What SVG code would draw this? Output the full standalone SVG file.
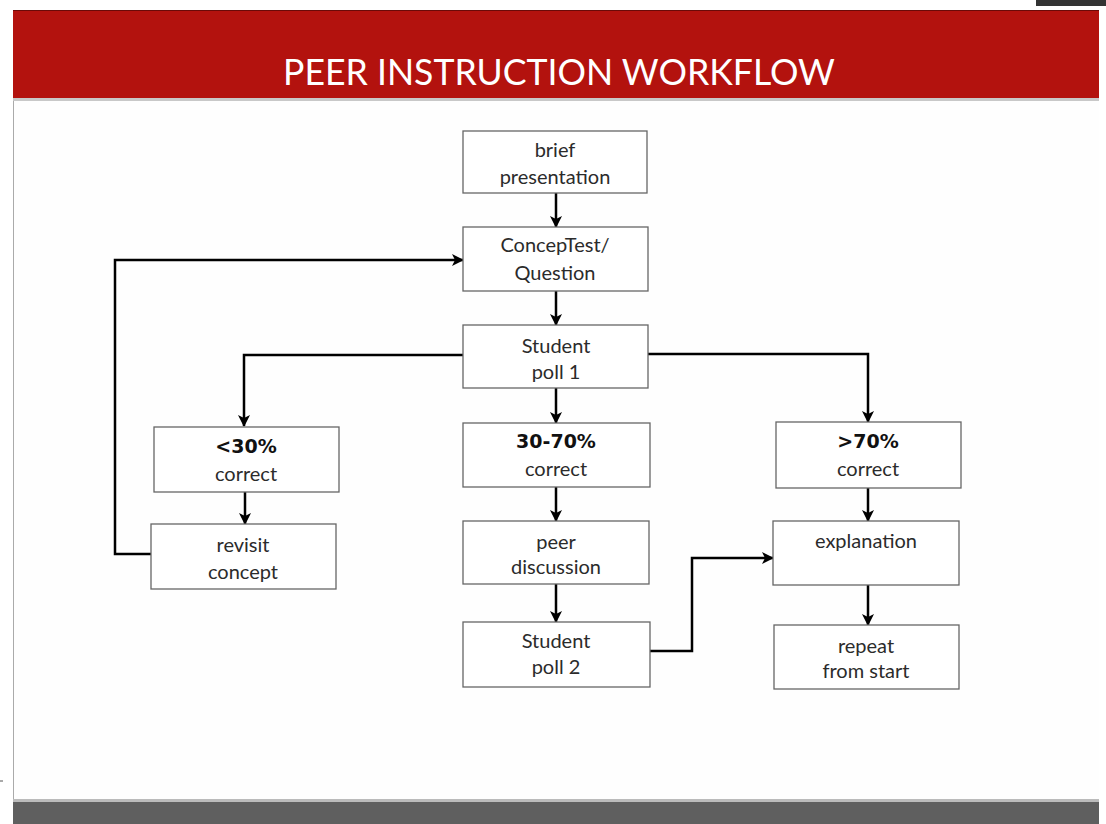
<svg xmlns="http://www.w3.org/2000/svg" width="1106" height="824" viewBox="0 0 1106 824">
<defs>
<marker id="ah" markerWidth="12" markerHeight="12" refX="11" refY="6" orient="auto" markerUnits="userSpaceOnUse">
<path d="M0,0 L12,6 L0,12 L3,6 z" fill="#000"/>
</marker>
<style>
.box{fill:#fff;stroke:#666;stroke-width:1.3}
.t{font-family:Lato,"Open Sans","Liberation Sans",sans-serif;font-size:20px;fill:#2b2b2b;text-anchor:middle}
.b{font-family:"DejaVu Sans","Liberation Sans",sans-serif;font-weight:bold;font-size:19px;fill:#111;text-anchor:middle}
.c{fill:none;stroke:#000;stroke-width:2.5}
</style>
</defs>
<rect x="0" y="0" width="1106" height="824" fill="#fff"/>
<rect x="1036" y="0" width="70" height="6" fill="#333"/>
<rect x="13" y="98" width="1086" height="702" fill="#fefefe"/>
<line x1="13.5" y1="98" x2="13.5" y2="800" stroke="#aaa" stroke-width="1"/>
<line x1="0" y1="781" x2="3" y2="781" stroke="#555" stroke-width="1"/>
<g id="header">
<rect x="13" y="10" width="1086" height="88" fill="#b3120e"/>
<line x1="13" y1="10.5" x2="1099" y2="10.5" stroke="#6b0a08" stroke-width="1"/>
<rect x="13" y="98" width="1086" height="3" fill="#c8c8c8"/>
<text x="559" y="85" textLength="552" lengthAdjust="spacingAndGlyphs" style="font-family:Lato,'Open Sans','Liberation Sans',sans-serif;font-size:37px;fill:#fff;text-anchor:middle">PEER INSTRUCTION WORKFLOW</text>
</g>
<g id="footer">
<rect x="13" y="799" width="1086" height="3" fill="#bbb"/>
<rect x="13" y="802" width="1086" height="22" fill="#5f5f5f"/>
</g>
<g id="connectors">
<line class="c" x1="556" y1="193" x2="556" y2="227" marker-end="url(#ah)"/>
<line class="c" x1="556" y1="291" x2="556" y2="325" marker-end="url(#ah)"/>
<line class="c" x1="556" y1="388" x2="556" y2="423" marker-end="url(#ah)"/>
<polyline class="c" points="463,355 244,355 244,426" marker-end="url(#ah)"/>
<polyline class="c" points="648,354 868,354 868,422" marker-end="url(#ah)"/>
<line class="c" x1="245" y1="492" x2="245" y2="524" marker-end="url(#ah)"/>
<polyline class="c" points="151,554 115,554 115,260 463,260" marker-end="url(#ah)"/>
<line class="c" x1="556" y1="487" x2="556" y2="521" marker-end="url(#ah)"/>
<line class="c" x1="556" y1="584" x2="556" y2="622" marker-end="url(#ah)"/>
<polyline class="c" points="649,651 692,651 692,558 773,558" marker-end="url(#ah)"/>
<line class="c" x1="868" y1="488" x2="868" y2="521" marker-end="url(#ah)"/>
<line class="c" x1="868" y1="585" x2="868" y2="625" marker-end="url(#ah)"/>
</g>
<g id="brief">
<rect class="box" x="463" y="131" width="184" height="62"/>
<text class="t" x="555" y="157">brief</text>
<text class="t" x="555" y="184">presentation</text>
</g>
<g id="conceptest">
<rect class="box" x="463" y="227" width="185" height="64"/>
<text class="t" x="555" y="252">ConcepTest/</text>
<text class="t" x="555" y="280">Question</text>
</g>
<g id="poll1">
<rect class="box" x="463" y="325" width="185" height="63"/>
<text class="t" x="556" y="353">Student</text>
<text class="t" x="556" y="379">poll 1</text>
</g>
<g id="low">
<rect class="box" x="154" y="427" width="185" height="65"/>
<text class="b" x="246" y="453">&lt;30%</text>
<text class="t" x="246" y="481">correct</text>
</g>
<g id="mid">
<rect class="box" x="463" y="423" width="187" height="64"/>
<text class="b" x="556" y="448">30-70%</text>
<text class="t" x="556" y="476">correct</text>
</g>
<g id="high">
<rect class="box" x="776" y="422" width="185" height="66"/>
<text class="b" x="868" y="448">&gt;70%</text>
<text class="t" x="868" y="476">correct</text>
</g>
<g id="revisit">
<rect class="box" x="151" y="524" width="185" height="65"/>
<text class="t" x="243" y="552">revisit</text>
<text class="t" x="243" y="579">concept</text>
</g>
<g id="peer">
<rect class="box" x="463" y="521" width="186" height="63"/>
<text class="t" x="556" y="549">peer</text>
<text class="t" x="556" y="574">discussion</text>
</g>
<g id="explanation">
<rect class="box" x="773" y="521" width="186" height="64"/>
<text class="t" x="866" y="548">explanation</text>
</g>
<g id="poll2">
<rect class="box" x="463" y="622" width="187" height="65"/>
<text class="t" x="556" y="648">Student</text>
<text class="t" x="556" y="674">poll 2</text>
</g>
<g id="repeat">
<rect class="box" x="774" y="625" width="185" height="64"/>
<text class="t" x="866" y="653">repeat</text>
<text class="t" x="866" y="678">from start</text>
</g>
</svg>
